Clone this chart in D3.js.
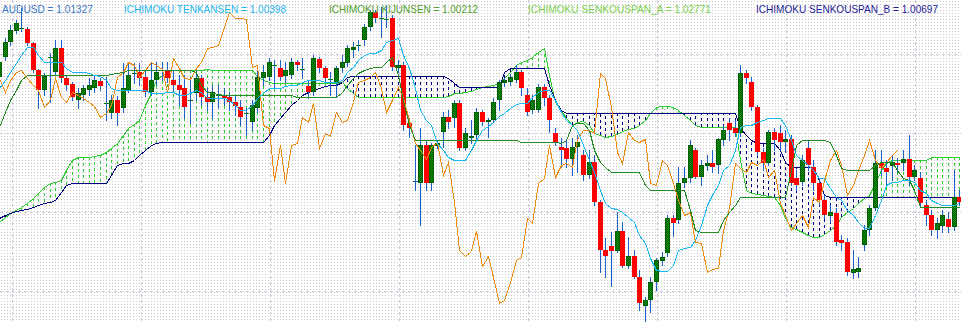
<!DOCTYPE html>
<html>
<head>
<meta charset="utf-8">
<script src="https://cdn.jsdelivr.net/npm/d3@7"></script>
<style>
  body { margin: 0; background: #fff; }
  svg { display: block; }
</style>
</head>
<body>
<svg id="chart" width="961" height="322"></svg>
<script>
// chart size
const W = 961, H = 322;

// AUDUSD daily bars (bar 0 is the half-cut one at the left edge)
const opens = [
  1.0346,1.0386,1.0416,1.0438,1.0442,1.0442,1.0414,1.0360,1.0320,1.0384,1.0356,1.0404,
  1.0344,1.0332,1.0300,1.0310,1.0320,1.0324,1.0338,1.0292,1.0274,1.0300,1.0284,1.0320,
  1.0352,1.0356,1.0346,1.0316,1.0340,1.0358,1.0360,1.0340,1.0330,1.0324,1.0298,1.0314,
  1.0344,1.0306,1.0296,1.0308,1.0308,1.0306,1.0296,1.0286,1.0272,1.0256,1.0284,1.0344,
  1.0346,1.0368,1.0364,1.0348,1.0350,1.0376,1.0360,1.0328,1.0316,1.0382,1.0364,1.0340,
  1.0334,1.0364,1.0374,1.0400,1.0408,1.0420,1.0446,1.0476,1.0462,1.0460,1.0464,1.0364,
  1.0370,1.0254,1.0138,1.0134,1.0210,1.0134,1.0208,1.0236,1.0266,1.0264,1.0294,1.0204,
  1.0224,1.0230,1.0276,1.0256,1.0260,1.0300,1.0334,1.0336,1.0340,1.0356,1.0310,1.0280,
  1.0280,1.0326,1.0304,1.0234,1.0206,1.0204,1.0182,1.0206,1.0190,1.0150,1.0176,1.0096,
  1.0000,1.0008,0.9998,1.0038,0.9968,0.9988,0.9946,0.9888,0.9900,0.9936,0.9978,0.9994,
  1.0064,1.0060,1.0134,1.0144,1.0200,1.0146,1.0168,1.0174,1.0170,1.0220,1.0254,1.0244,
  1.0234,1.0354,1.0336,1.0286,1.0196,1.0174,1.0236,1.0234,1.0216,1.0222,1.0144,1.0136,
  1.0204,1.0166,1.0134,1.0100,1.0068,1.0074,1.0020,1.0016,0.9954,0.9956,1.0010,1.0040,
  1.0084,1.0174,1.0164,1.0168,1.0174,1.0174,1.0182,1.0146,1.0144,1.0090,1.0070,1.0040,
  1.0048,1.0062,1.0046,1.0106
];
const highs = [
  1.0390,1.0424,1.0450,1.0460,1.0484,1.0446,1.0416,1.0362,1.0354,1.0394,1.0420,1.0420,
  1.0348,1.0336,1.0324,1.0330,1.0344,1.0350,1.0344,1.0346,1.0310,1.0308,1.0374,1.0374,
  1.0374,1.0374,1.0360,1.0376,1.0376,1.0376,1.0376,1.0360,1.0350,1.0350,1.0346,1.0360,
  1.0350,1.0324,1.0330,1.0330,1.0324,1.0316,1.0310,1.0300,1.0284,1.0300,1.0366,1.0370,
  1.0384,1.0380,1.0380,1.0376,1.0384,1.0380,1.0384,1.0340,1.0390,1.0386,1.0368,1.0356,
  1.0368,1.0390,1.0410,1.0416,1.0420,1.0452,1.0480,1.0480,1.0486,1.0490,1.0470,1.0380,
  1.0376,1.0264,1.0210,1.0244,1.0220,1.0214,1.0220,1.0276,1.0280,1.0300,1.0300,1.0244,
  1.0260,1.0284,1.0280,1.0264,1.0304,1.0340,1.0344,1.0352,1.0370,1.0360,1.0324,1.0310,
  1.0332,1.0332,1.0310,1.0244,1.0224,1.0220,1.0224,1.0230,1.0200,1.0200,1.0190,1.0100,
  1.0024,1.0036,1.0076,1.0056,1.0026,1.0000,0.9960,0.9906,0.9946,0.9984,0.9996,1.0070,
  1.0070,1.0166,1.0166,1.0220,1.0204,1.0180,1.0190,1.0200,1.0224,1.0250,1.0264,1.0260,
  1.0370,1.0360,1.0346,1.0290,1.0204,1.0240,1.0244,1.0250,1.0240,1.0230,1.0160,1.0190,
  1.0220,1.0180,1.0144,1.0110,1.0090,1.0084,1.0030,1.0024,1.0000,0.9986,1.0050,1.0090,
  1.0200,1.0200,1.0180,1.0190,1.0184,1.0200,1.0230,1.0170,1.0156,1.0100,1.0080,1.0064,
  1.0080,1.0076,1.0160,1.0120
];
const lows = [
  1.0324,1.0380,1.0410,1.0434,1.0438,1.0410,1.0356,1.0284,1.0310,1.0296,1.0350,1.0336,
  1.0320,1.0300,1.0284,1.0300,1.0310,1.0316,1.0320,1.0260,1.0264,1.0250,1.0276,1.0316,
  1.0334,1.0330,1.0308,1.0310,1.0330,1.0340,1.0336,1.0316,1.0290,1.0264,1.0254,1.0300,
  1.0290,1.0280,1.0264,1.0284,1.0290,1.0280,1.0270,1.0250,1.0230,1.0240,1.0276,1.0330,
  1.0340,1.0326,1.0340,1.0336,1.0344,1.0360,1.0344,1.0304,1.0310,1.0356,1.0336,1.0310,
  1.0306,1.0356,1.0368,1.0386,1.0400,1.0410,1.0440,1.0456,1.0426,1.0446,1.0360,1.0356,
  1.0240,1.0226,1.0120,1.0050,1.0120,1.0120,1.0204,1.0206,1.0244,1.0246,1.0200,1.0200,
  1.0214,1.0224,1.0250,1.0226,1.0256,1.0280,1.0328,1.0330,1.0336,1.0310,1.0270,1.0274,
  1.0276,1.0290,1.0236,1.0210,1.0166,1.0166,1.0150,1.0156,1.0140,1.0144,1.0090,0.9956,
  0.9946,0.9928,0.9996,0.9966,0.9964,0.9944,0.9880,0.9856,0.9876,0.9920,0.9970,0.9988,
  1.0028,1.0054,1.0126,1.0136,1.0144,1.0130,1.0160,1.0156,1.0154,1.0210,1.0220,1.0228,
  1.0228,1.0334,1.0280,1.0190,1.0160,1.0170,1.0200,1.0200,1.0196,1.0130,1.0120,1.0130,
  1.0160,1.0120,1.0090,1.0064,1.0056,1.0010,1.0000,0.9950,0.9944,0.9946,1.0000,1.0030,
  1.0080,1.0150,1.0130,1.0140,1.0156,1.0160,1.0130,1.0140,1.0088,1.0050,1.0030,1.0024,
  1.0036,1.0036,1.0040,1.0090
];
const closes = [
  1.0376,1.0416,1.0440,1.0454,1.0444,1.0414,1.0360,1.0320,1.0348,1.0386,1.0404,1.0344,
  1.0330,1.0306,1.0314,1.0324,1.0330,1.0340,1.0328,1.0294,1.0300,1.0274,1.0324,1.0350,
  1.0354,1.0344,1.0316,1.0340,1.0356,1.0360,1.0344,1.0330,1.0320,1.0286,1.0300,1.0344,
  1.0306,1.0296,1.0316,1.0310,1.0304,1.0296,1.0288,1.0266,1.0274,1.0290,1.0346,1.0356,
  1.0376,1.0370,1.0346,1.0360,1.0376,1.0370,1.0362,1.0316,1.0384,1.0364,1.0344,1.0342,
  1.0364,1.0376,1.0404,1.0406,1.0410,1.0446,1.0476,1.0464,1.0464,1.0462,1.0366,1.0370,
  1.0250,1.0244,1.0138,1.0210,1.0134,1.0210,1.0214,1.0266,1.0256,1.0294,1.0204,1.0234,
  1.0228,1.0276,1.0256,1.0260,1.0296,1.0336,1.0340,1.0346,1.0356,1.0324,1.0276,1.0300,
  1.0326,1.0304,1.0260,1.0214,1.0200,1.0182,1.0206,1.0216,1.0150,1.0176,1.0096,1.0000,
  0.9988,0.9998,1.0038,0.9968,0.9988,0.9946,0.9894,0.9900,0.9936,0.9980,0.9986,1.0064,
  1.0054,1.0134,1.0144,1.0210,1.0146,1.0170,1.0174,1.0166,1.0222,1.0240,1.0240,1.0234,
  1.0354,1.0344,1.0286,1.0196,1.0174,1.0236,1.0220,1.0216,1.0222,1.0134,1.0130,1.0180,
  1.0170,1.0134,1.0100,1.0070,1.0076,1.0016,1.0014,0.9956,0.9962,0.9964,1.0040,1.0084,
  1.0174,1.0164,1.0156,1.0176,1.0170,1.0182,1.0146,1.0160,1.0094,1.0070,1.0040,1.0054,
  1.0070,1.0046,1.0106,1.0096
];
// closes of the bars cut off at the right edge, only seen through the lagging span
const closesAfter = [1.0140,1.0180,1.0200,1.0170,1.0110,1.0130,1.0160,1.0190,1.0220,1.0180,1.0164,1.0176,1.0190,1.0200];

const tenkan = [
  1.0324,1.0340,1.0356,1.0374,1.0390,1.0406,1.0406,1.0390,1.0376,1.0376,1.0376,1.0376,
  1.0364,1.0356,1.0356,1.0356,1.0354,1.0350,1.0348,1.0340,1.0324,1.0320,1.0320,1.0320,
  1.0320,1.0320,1.0320,1.0314,1.0314,1.0314,1.0316,1.0316,1.0310,1.0310,1.0314,1.0320,
  1.0316,1.0304,1.0304,1.0304,1.0304,1.0300,1.0290,1.0280,1.0280,1.0290,1.0304,1.0314,
  1.0324,1.0324,1.0324,1.0328,1.0330,1.0330,1.0336,1.0340,1.0340,1.0340,1.0336,1.0336,
  1.0336,1.0340,1.0356,1.0366,1.0380,1.0390,1.0394,1.0394,1.0400,1.0416,1.0420,1.0424,
  1.0390,1.0364,1.0324,1.0280,1.0260,1.0250,1.0214,1.0200,1.0186,1.0180,1.0180,1.0180,
  1.0200,1.0220,1.0240,1.0248,1.0256,1.0268,1.0274,1.0284,1.0292,1.0294,1.0294,1.0306,
  1.0316,1.0320,1.0320,1.0300,1.0276,1.0260,1.0250,1.0240,1.0210,1.0180,1.0156,1.0120,
  1.0094,1.0084,1.0082,1.0076,1.0066,1.0056,1.0030,1.0014,0.9984,0.9960,0.9958,0.9958,
  0.9970,1.0000,1.0004,1.0006,1.0020,1.0050,1.0090,1.0110,1.0130,1.0160,1.0170,1.0200,
  1.0246,1.0250,1.0250,1.0256,1.0260,1.0264,1.0264,1.0264,1.0250,1.0220,1.0190,1.0180,
  1.0170,1.0160,1.0144,1.0144,1.0124,1.0106,1.0100,1.0080,1.0070,1.0056,1.0044,1.0044,
  1.0070,1.0100,1.0130,1.0136,1.0136,1.0140,1.0140,1.0136,1.0120,1.0114,1.0100,1.0094,
  1.0090,1.0090,1.0090,1.0094
];
const kijun = [
  1.0246,1.0276,1.0300,1.0320,1.0340,1.0350,1.0350,1.0350,1.0350,1.0350,1.0350,1.0350,
  1.0350,1.0350,1.0350,1.0350,1.0350,1.0350,1.0350,1.0350,1.0352,1.0354,1.0356,1.0360,
  1.0360,1.0360,1.0360,1.0360,1.0360,1.0360,1.0360,1.0360,1.0360,1.0360,1.0360,1.0356,
  1.0330,1.0316,1.0314,1.0312,1.0310,1.0310,1.0310,1.0310,1.0310,1.0310,1.0310,1.0310,
  1.0310,1.0310,1.0310,1.0310,1.0310,1.0306,1.0306,1.0306,1.0306,1.0306,1.0306,1.0306,
  1.0306,1.0316,1.0330,1.0344,1.0354,1.0360,1.0364,1.0366,1.0366,1.0376,1.0386,1.0350,
  1.0300,1.0250,1.0220,1.0220,1.0220,1.0220,1.0220,1.0220,1.0220,1.0220,1.0220,1.0220,
  1.0220,1.0220,1.0220,1.0220,1.0220,1.0220,1.0220,1.0220,1.0220,1.0216,1.0216,1.0216,
  1.0216,1.0216,1.0216,1.0216,1.0214,1.0220,1.0250,1.0254,1.0254,1.0240,1.0200,1.0176,
  1.0166,1.0156,1.0156,1.0156,1.0156,1.0156,1.0156,1.0130,1.0120,1.0120,1.0120,1.0120,
  1.0120,1.0120,1.0120,1.0080,1.0040,1.0036,1.0036,1.0036,1.0036,1.0060,1.0076,1.0090,
  1.0106,1.0106,1.0106,1.0106,1.0106,1.0106,1.0106,1.0106,1.0106,1.0160,1.0210,1.0220,
  1.0220,1.0220,1.0220,1.0220,1.0216,1.0190,1.0164,1.0160,1.0160,1.0160,1.0160,1.0160,
  1.0170,1.0176,1.0176,1.0176,1.0160,1.0144,1.0140,1.0120,1.0086,1.0086,1.0086,1.0086,
  1.0086,1.0086,1.0086,1.0086
];
const spanA = [
  1.0056,1.0066,1.0074,1.0080,1.0086,1.0094,1.0104,1.0114,1.0126,1.0134,1.0136,1.0140,
  1.0160,1.0180,1.0186,1.0186,1.0186,1.0188,1.0190,1.0196,1.0204,1.0214,1.0230,1.0244,
  1.0252,1.0260,1.0290,1.0314,1.0340,1.0350,1.0356,1.0360,1.0360,1.0360,1.0360,1.0360,
  1.0360,1.0362,1.0360,1.0360,1.0360,1.0360,1.0360,1.0360,1.0360,1.0360,1.0348,1.0340,
  1.0336,1.0334,1.0334,1.0334,1.0334,1.0334,1.0334,1.0334,1.0334,1.0334,1.0334,1.0334,
  1.0334,1.0336,1.0324,1.0314,1.0306,1.0306,1.0306,1.0306,1.0306,1.0306,1.0306,1.0306,
  1.0306,1.0306,1.0306,1.0306,1.0306,1.0306,1.0306,1.0306,1.0308,1.0314,1.0314,1.0316,
  1.0318,1.0322,1.0326,1.0328,1.0330,1.0334,1.0344,1.0356,1.0370,1.0376,1.0380,1.0386,
  1.0396,1.0404,1.0350,1.0296,1.0280,1.0264,1.0250,1.0256,1.0258,1.0250,1.0234,1.0230,
  1.0226,1.0228,1.0232,1.0238,1.0242,1.0244,1.0250,1.0260,1.0274,1.0286,1.0288,1.0288,
  1.0286,1.0280,1.0270,1.0260,1.0250,1.0246,1.0246,1.0246,1.0246,1.0246,1.0246,1.0246,
  1.0180,1.0120,1.0114,1.0112,1.0110,1.0108,1.0106,1.0090,1.0064,1.0046,1.0042,1.0036,
  1.0030,1.0026,1.0026,1.0032,1.0040,1.0050,1.0066,1.0076,1.0084,1.0094,1.0104,1.0110,
  1.0134,1.0160,1.0174,1.0180,1.0180,1.0180,1.0180,1.0180,1.0180,1.0180,1.0186,1.0186,
  1.0186,1.0186,1.0186,1.0186
];
const spanB = [
  1.0064,1.0070,1.0074,1.0078,1.0080,1.0082,1.0086,1.0090,1.0094,1.0096,1.0100,1.0116,
  1.0130,1.0134,1.0134,1.0134,1.0134,1.0134,1.0134,1.0134,1.0150,1.0170,1.0174,1.0174,
  1.0180,1.0190,1.0200,1.0210,1.0214,1.0216,1.0216,1.0216,1.0216,1.0216,1.0216,1.0216,
  1.0216,1.0216,1.0216,1.0216,1.0216,1.0216,1.0216,1.0216,1.0216,1.0216,1.0216,1.0216,
  1.0230,1.0250,1.0264,1.0276,1.0290,1.0300,1.0310,1.0316,1.0320,1.0324,1.0328,1.0330,
  1.0330,1.0336,1.0346,1.0348,1.0348,1.0348,1.0348,1.0348,1.0348,1.0348,1.0348,1.0348,
  1.0348,1.0348,1.0348,1.0348,1.0348,1.0348,1.0348,1.0348,1.0344,1.0334,1.0326,1.0326,
  1.0326,1.0326,1.0326,1.0326,1.0326,1.0326,1.0356,1.0364,1.0364,1.0364,1.0364,1.0364,
  1.0364,1.0364,1.0330,1.0300,1.0280,1.0274,1.0274,1.0274,1.0274,1.0274,1.0274,1.0274,
  1.0274,1.0274,1.0274,1.0274,1.0274,1.0274,1.0274,1.0274,1.0274,1.0274,1.0274,1.0274,
  1.0274,1.0274,1.0274,1.0274,1.0274,1.0274,1.0274,1.0274,1.0274,1.0274,1.0274,1.0274,
  1.0244,1.0230,1.0220,1.0214,1.0214,1.0214,1.0214,1.0200,1.0176,1.0166,1.0166,1.0166,
  1.0166,1.0166,1.0140,1.0110,1.0106,1.0106,1.0106,1.0106,1.0106,1.0106,1.0106,1.0106,
  1.0106,1.0106,1.0106,1.0106,1.0106,1.0106,1.0106,1.0106,1.0106,1.0106,1.0106,1.0106,
  1.0106,1.0106,1.0106,1.0106
];
const CHIKOU_SHIFT = 25; // lagging span is drawn this many bars back

// grid
const gridPrices = [1.0392, 1.0234, 1.0076, 0.9918];
const gridBars = [2.3, 25.3, 48.3, 71.2, 94.2, 117.2, 140.2, 163.1];

// top labels
const labelNames = ["AUDUSD", "ICHIMOKU TENKANSEN", "ICHIMOKU KIJUNSEN", "ICHIMOKU SENKOUSPAN_A", "ICHIMOKU SENKOUSPAN_B"];
const labelValues = ["1.01327", "1.00398", "1.00212", "1.02771", "1.00697"];

// colours
const C_WICK = "#1a62c8", C_BEAR = "#ff0000", C_BULL_EDGE = "#006000";
const C_TENKAN = "#1ab8f2", C_KIJUN = "#228b22", C_SPANA = "#32cd32", C_SPANB = "#000080", C_CHIKOU = "#f08a0c";

const svg = d3.select("#chart");

const x = d3.scaleLinear().domain([0, closes.length - 1]).range([-1, 959.2]);
const y = d3.scaleLinear().domain([0.9856, 1.0500]).range([H, 0]);

// background dot pattern + bull body dither
const defs = svg.append("defs");
const dots = defs.append("pattern").attr("id", "dots")
    .attr("width", 3).attr("height", 3).attr("patternUnits", "userSpaceOnUse");
dots.append("rect").attr("width", 3).attr("height", 3).attr("fill", "#ffffff");
dots.append("rect").attr("x", 1).attr("y", 1).attr("width", 1).attr("height", 1).attr("fill", "#cccccc");

const bull = defs.append("pattern").attr("id", "bull")
    .attr("width", 2).attr("height", 2).attr("patternUnits", "userSpaceOnUse");
bull.append("rect").attr("width", 2).attr("height", 2).attr("fill", "#0c960c");
bull.append("rect").attr("width", 1).attr("height", 1).attr("fill", "#005800");
bull.append("rect").attr("x", 1).attr("y", 1).attr("width", 1).attr("height", 1).attr("fill", "#005800");

svg.append("rect").attr("width", W).attr("height", H).attr("fill", "url(#dots)");

// grid
const grid = svg.append("g").attr("shape-rendering", "crispEdges");
grid.selectAll("line.h").data(gridPrices).join("line")
    .attr("class", "h")
    .attr("x1", 0).attr("x2", W)
    .attr("y1", d => Math.round(y(d)) + 0.5).attr("y2", d => Math.round(y(d)) + 0.5)
    .attr("stroke", "#cfc8dc").attr("stroke-dasharray", "3,3");
grid.selectAll("line.v").data(gridBars).join("line")
    .attr("class", "v")
    .attr("y1", 0).attr("y2", H)
    .attr("x1", d => Math.round(x(d)) + 0.5).attr("x2", d => Math.round(x(d)) + 0.5)
    .attr("stroke", "#cfc8dc").attr("stroke-dasharray", "3,3");

// cloud hatch: one dashed stroke per bar between the two spans
const px = i => Math.round(x(i)) + 0.5;
svg.append("g").attr("shape-rendering", "crispEdges")
  .selectAll("line").data(spanA).join("line")
    .attr("x1", (d, i) => px(i)).attr("x2", (d, i) => px(i))
    .attr("y1", d => Math.round(y(d)))
    .attr("y2", (d, i) => Math.round(y(spanB[i])))
    .attr("stroke", (d, i) => d >= spanB[i] ? C_SPANA : C_SPANB)
    .attr("stroke-dasharray", "3,3");

function drawLine(values, color, start) {
  const line = d3.line()
      .defined(d => d != null)
      .x((d, i) => px(i + start))
      .y(d => Math.round(y(d)) + 0.5);
  svg.append("path")
      .datum(values)
      .attr("d", line)
      .attr("fill", "none")
      .attr("stroke", color)
      .attr("stroke-width", 1)
      .attr("shape-rendering", "crispEdges");
}

drawLine(spanA, C_SPANA, 0);
drawLine(spanB, C_SPANB, 0);

// candles
const candles = svg.append("g").attr("shape-rendering", "crispEdges");
closes.forEach((c, i) => {
  const o = opens[i];
  const cx = Math.round(x(i));
  candles.append("line")
      .attr("x1", cx + 0.5).attr("x2", cx + 0.5)
      .attr("y1", Math.round(y(highs[i]))).attr("y2", Math.round(y(lows[i])) + 1)
      .attr("stroke", C_WICK);
  const top = Math.round(y(Math.max(o, c)));
  const bot = Math.round(y(Math.min(o, c)));
  if (bot - top < 1) {
    candles.append("line")
        .attr("x1", cx - 2).attr("x2", cx + 3)
        .attr("y1", top + 0.5).attr("y2", top + 0.5)
        .attr("stroke", C_WICK);
    return;
  }
  if (c > o) {
    candles.append("rect")
        .attr("x", cx - 2).attr("y", top).attr("width", 5).attr("height", bot - top)
        .attr("fill", "url(#bull)");
    candles.append("rect")
        .attr("x", cx - 1.5).attr("y", top + 0.5).attr("width", 4).attr("height", Math.max(0, bot - top - 1))
        .attr("fill", "none").attr("stroke", C_BULL_EDGE);
  } else {
    candles.append("rect")
        .attr("x", cx - 2).attr("y", top).attr("width", 5).attr("height", bot - top)
        .attr("fill", C_BEAR);
  }
});

// lagging span = closes moved back
const chikou = closes.slice(CHIKOU_SHIFT).concat(closesAfter);
drawLine(chikou, C_CHIKOU, 0);
drawLine(kijun, C_KIJUN, 0);
drawLine(tenkan, C_TENKAN, 0);

// labels across the top
const labelX = [2, 124, 329, 528, 756];
const labelW = [91, 162, 149, 183, 182];
const labelColors = ["#3b78c2", "#1eb6f0", "#4f9e2c", "#7ccf4a", "#1c1c96"];
svg.append("g")
    .attr("font-family", "Arial, 'Liberation Sans', sans-serif")
    .attr("font-size", 11)
  .selectAll("text").data(labelNames).join("text")
    .attr("x", (d, i) => labelX[i])
    .attr("y", 12.5)
    .attr("fill", (d, i) => labelColors[i])
    .attr("textLength", (d, i) => labelW[i])
    .attr("lengthAdjust", "spacingAndGlyphs")
    .text((d, i) => d + " = " + labelValues[i]);
</script>
</body>
</html>
